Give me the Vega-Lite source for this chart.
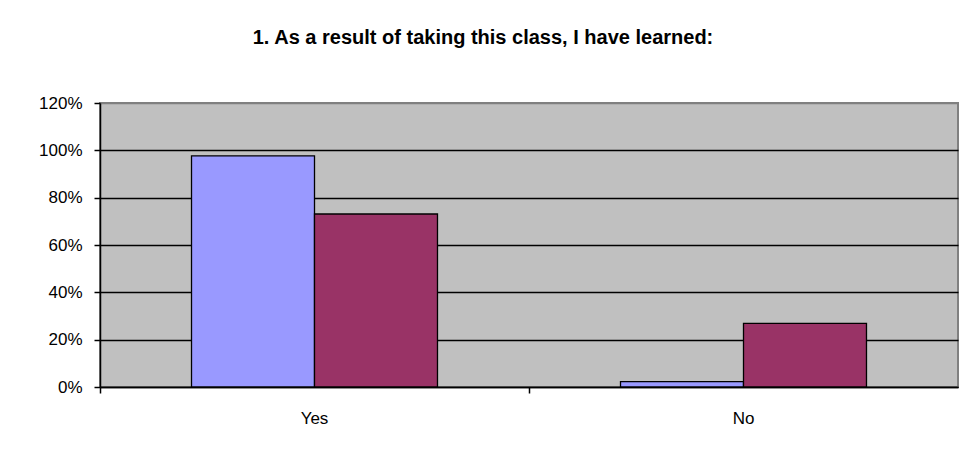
{
  "$schema": "https://vega.github.io/schema/vega-lite/v6.json",
  "width": 858,
  "height": 284,
  "autosize": {"type": "none"},
  "padding": {"left": 100, "top": 103, "right": 7, "bottom": 66},
  "background": "white",
  "title": {
    "text": "1. As a result of taking this class, I have learned:",
    "font": "Liberation Sans",
    "fontSize": 20,
    "fontWeight": "bold",
    "color": "black",
    "anchor": "middle",
    "baseline": "alphabetic",
    "dx": -46,
    "offset": 30
  },
  "data": {
    "values": [
      {"answer": "Yes", "series": "A", "value": 0.977},
      {"answer": "Yes", "series": "B", "value": 0.731},
      {"answer": "No", "series": "A", "value": 0.023},
      {"answer": "No", "series": "B", "value": 0.269}
    ]
  },
  "mark": {"type": "bar", "stroke": "black", "strokeWidth": 1.3},
  "encoding": {
    "x": {
      "field": "answer",
      "type": "nominal",
      "sort": ["Yes", "No"],
      "scale": {"paddingInner": 0, "paddingOuter": 0},
      "axis": {
        "title": null,
        "labelAngle": 0,
        "bandPosition": 0,
        "domainColor": "black",
        "domainWidth": 1.5,
        "tickColor": "black",
        "tickWidth": 1.5,
        "tickSize": 6,
        "labelFont": "Liberation Sans",
        "labelFontSize": 17,
        "labelColor": "black",
        "labelPadding": 17,
        "grid": false
      }
    },
    "xOffset": {
      "field": "series",
      "scale": {"paddingInner": 0, "paddingOuter": 0.744}
    },
    "y": {
      "field": "value",
      "type": "quantitative",
      "scale": {"domain": [0, 1.2], "nice": false},
      "axis": {
        "title": null,
        "format": ".0%",
        "values": [0, 0.2, 0.4, 0.6, 0.8, 1.0, 1.2],
        "domainColor": "black",
        "domainWidth": 1.5,
        "tickColor": "black",
        "tickWidth": 1.5,
        "tickSize": 6,
        "labelFont": "Liberation Sans",
        "labelFontSize": 17,
        "labelColor": "black",
        "labelPadding": 12,
        "grid": true,
        "gridColor": {"condition": {"test": "datum.value >= 1.2", "value": "#808080"}, "value": "black"},
        "gridOpacity": 1,
        "gridWidth": 1.5
      }
    },
    "color": {
      "field": "series",
      "type": "nominal",
      "scale": {"range": ["#9999FF", "#993366"]},
      "legend": null
    }
  },
  "config": {
    "view": {"fill": "#C0C0C0", "stroke": "#808080", "strokeWidth": 2}
  }
}
